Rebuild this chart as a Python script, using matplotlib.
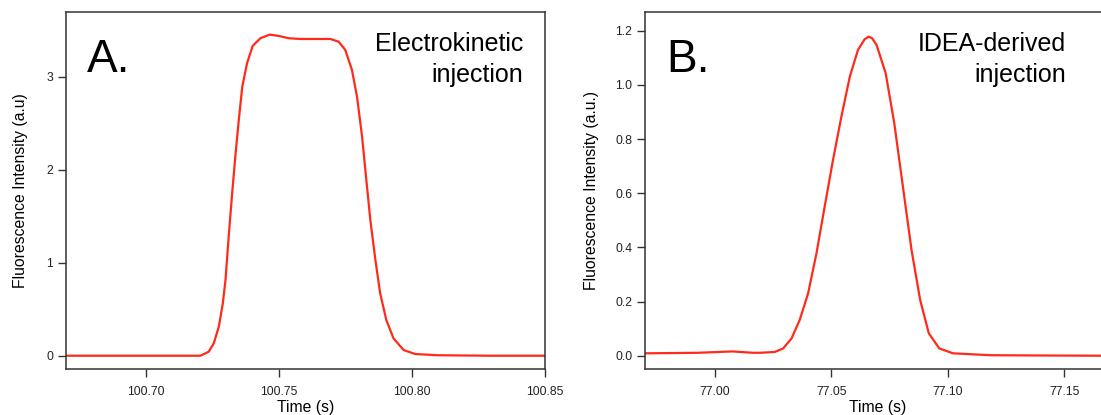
import matplotlib
matplotlib.use("Agg")
from matplotlib import pyplot as plt
from matplotlib.ticker import FormatStrFormatter

plt.rcParams['font.family'] = ['Liberation Sans', 'DejaVu Sans']

# panel A: electrokinetic injection
time_a = [100.670, 100.700, 100.7131, 100.7206, 100.7237, 100.7256, 100.7275, 100.729,
          100.730, 100.7312, 100.7325, 100.7338, 100.735, 100.7363, 100.7381,
          100.7402, 100.7431, 100.7466, 100.750, 100.7537, 100.7581, 100.7694,
          100.7725, 100.775, 100.7775, 100.7794, 100.7813, 100.7829, 100.7844,
          100.7863, 100.7881, 100.7904, 100.7931, 100.7969, 100.8013, 100.810,
          100.830, 100.850]
signal_a = [0.0, 0.0, 0.0, 0.0, 0.043, 0.133, 0.312, 0.563,
            0.814, 1.28, 1.746, 2.176, 2.534, 2.892, 3.144,
            3.330, 3.413, 3.452, 3.438, 3.413, 3.405, 3.405,
            3.376, 3.287, 3.072, 2.785, 2.355, 1.889, 1.459,
            1.029, 0.671, 0.384, 0.187, 0.061, 0.018, 0.005,
            0.0, 0.0]

# panel B: IDEA-derived injection
time_b = [76.9698, 76.9927, 77.0075, 77.0164, 77.0193, 77.0257, 77.0293, 77.0329,
          77.0364, 77.040, 77.0436, 77.0471, 77.0507, 77.0543, 77.0579, 77.0614,
          77.0643, 77.0661, 77.0675, 77.0694, 77.0733, 77.077, 77.0807, 77.0844,
          77.0881, 77.0918, 77.0963, 77.1022, 77.1184, 77.1406, 77.170]
signal_b = [0.009, 0.011, 0.016, 0.011, 0.011, 0.014, 0.027, 0.064,
            0.132, 0.230, 0.378, 0.550, 0.723, 0.883, 1.030, 1.129,
            1.169, 1.178, 1.172, 1.147, 1.043, 0.858, 0.624, 0.390,
            0.206, 0.083, 0.027, 0.009, 0.002, 0.001, 0.0]

ticks_a_x = [100.70, 100.75, 100.80, 100.85]
ticks_a_y = [0, 1, 2, 3]
ticks_b_x = [77.00, 77.05, 77.10, 77.15]
ticks_b_y = [0.0, 0.2, 0.4, 0.6, 0.8, 1.0, 1.2]

red = '#ff2a1a'
dark = '#333333'


def style_axes(ax):
  for s in ax.spines.values():
    s.set_linewidth(1.1)
    s.set_color(dark)
  ax.tick_params(direction='out', length=6, width=1.0, labelsize=8.7,
                 colors=dark, labelcolor='#222222', pad=3)
  ax.tick_params(axis='x', pad=6)


fig = plt.figure(figsize=(11.01, 4.15), dpi=100)

ax1 = fig.add_axes([0.0597, 0.1101, 0.4353, 0.8603])
ax1.plot(time_a, signal_a, color=red, lw=1.6)
ax1.set_xlim(100.670, 100.850)
ax1.set_ylim(-0.146, 3.692)
ax1.set_xticks(ticks_a_x)
ax1.set_yticks(ticks_a_y)
ax1.xaxis.set_major_formatter(FormatStrFormatter('%.2f'))
style_axes(ax1)
ax1.set_xlabel('Time (s)', fontsize=11.3, labelpad=1.5)
ax1.set_ylabel('Fluorescence Intensity (a.u)', fontsize=11.3, labelpad=13)
ax1.text(0.0438, 0.8336, 'A.', transform=ax1.transAxes, fontsize=33, va='baseline')
ax1.text(0.954, 0.8924, 'Electrokinetic', transform=ax1.transAxes,
         fontsize=18, ha='right', va='baseline')
ax1.text(0.954, 0.8056, 'injection', transform=ax1.transAxes,
         fontsize=18, ha='right', va='baseline')

ax2 = fig.add_axes([0.5858, 0.1101, 0.4233, 0.8603])
ax2.plot(time_b, signal_b, color=red, lw=1.6)
ax2.set_xlim(76.970, 77.170)
ax2.set_ylim(-0.050, 1.268)
ax2.set_xticks(ticks_b_x)
ax2.set_yticks(ticks_b_y)
ax2.xaxis.set_major_formatter(FormatStrFormatter('%.2f'))
ax2.yaxis.set_major_formatter(FormatStrFormatter('%.1f'))
style_axes(ax2)
ax2.set_xlabel('Time (s)', fontsize=11.3, labelpad=1.5)
ax2.set_ylabel('Fluorescence Intensity (a.u.)', fontsize=11.3, labelpad=12)
ax2.text(0.0455, 0.8336, 'B.', transform=ax2.transAxes, fontsize=33, va='baseline')
ax2.text(0.904, 0.8924, 'IDEA-derived', transform=ax2.transAxes,
         fontsize=18, ha='right', va='baseline')
ax2.text(0.904, 0.8056, 'injection', transform=ax2.transAxes,
         fontsize=18, ha='right', va='baseline')

fig.savefig('out.png', dpi=100)
